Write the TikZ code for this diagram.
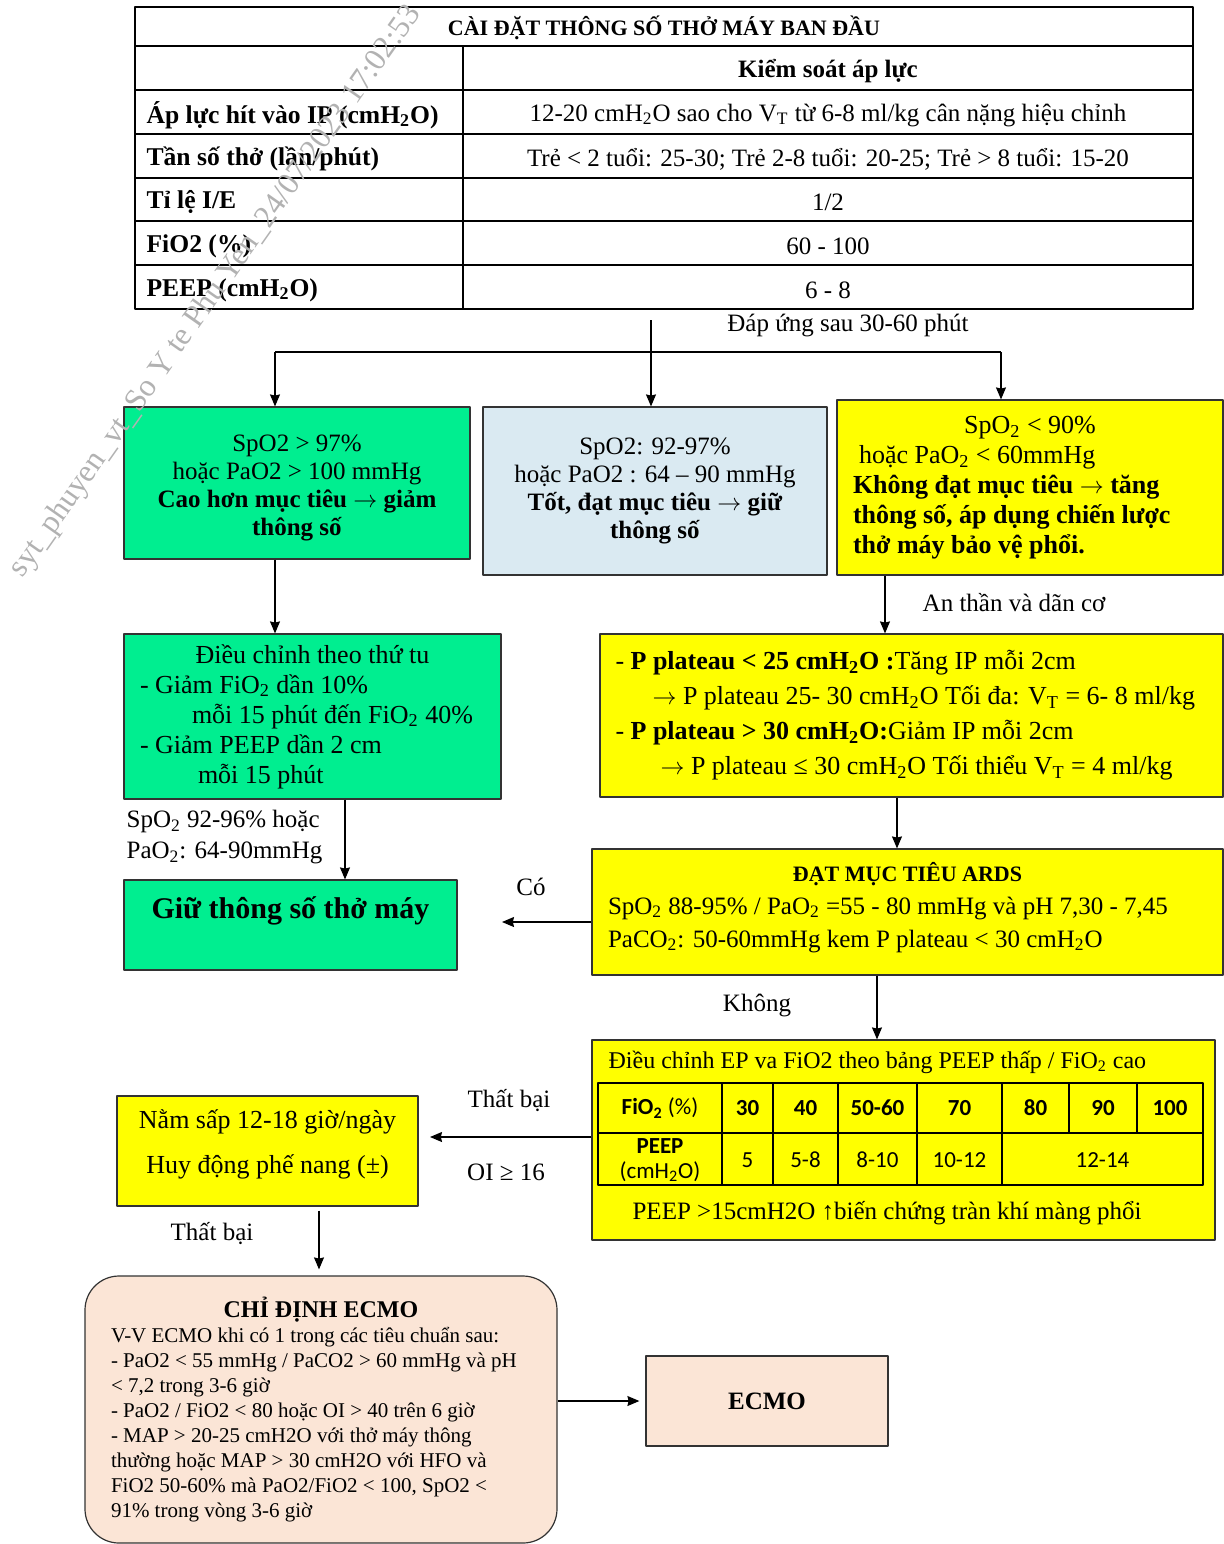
\documentclass[tikz,border=0pt]{standalone}
\usepackage{fontspec}
\setmainfont{Liberation Serif}
\newfontfamily\calibri{Carlito}
\usetikzlibrary{calc,arrows.meta}
\definecolor{mintg}{RGB}{0,238,144}
\definecolor{paleb}{RGB}{218,234,242}
\definecolor{yel}{RGB}{255,255,0}
\definecolor{peach}{RGB}{251,229,214}
\newcommand\bodyfs{\fontsize{12.5}{15}\selectfont}
\begin{document}
\begin{tikzpicture}[x=0.5pt, y=-0.5pt, >={Stealth[length=6pt,width=5pt,inset=0.6pt]}, line width=0.6pt, line join=round,
	font=\bodyfs,
	box/.style={draw=black!80, inner sep=0pt, align=center},
	gbox/.style={box, fill=mintg},
	bbox/.style={box, fill=paleb},
	ybox/.style={box, fill=yel},
	pbox/.style={box, fill=peach},
	lbl/.style={font=\bodyfs, inner sep=0pt},
	cellL/.style={anchor=west, font=\fontsize{12.8}{15}\selectfont\bfseries, inner sep=0pt},
	cellR/.style={font=\bodyfs, inner sep=0pt},
	cell/.style={font=\calibri\fontsize{11.5}{12.5}\selectfont, inner sep=0pt, align=center},
	cellb/.style={cell, font=\calibri\bfseries\fontsize{11.5}{12.5}\selectfont}]
	\useasboundingbox (0,0) rectangle (1223,1544);
	% bảng cài đặt ban đầu
	\draw (135,7) rectangle (1193,309);
	\draw (135,46) -- (1193,46);
	\draw (135,90) -- (1193,90);
	\draw (135,134) -- (1193,134);
	\draw (135,178) -- (1193,178);
	\draw (135,221) -- (1193,221);
	\draw (135,265) -- (1193,265);
	\draw (463,46) -- (463,309);
	\node[font=\bfseries\fontsize{11}{13}\selectfont] (ttl) at (664,28) {CÀI ĐẶT THÔNG SỐ THỞ MÁY BAN ĐẦU};
	\node[cellR, font=\bodyfs\bfseries] (hdr) at (828,71) {Kiểm soát áp lực};
	\node[cellL] (ip) at (146,115) {Áp lực hít vào IP (cmH\textsubscript{2}O)};
	\node[cellR] (ipv) at (828,115) {12-20 cmH\textsubscript{2}O sao cho V\textsubscript{T} từ 6-8 ml/kg cân nặng hiệu chỉnh};
	\node[cellL] (rr) at (146,159) {Tần số thở (lần/phút)};
	\node[cellR] (rrv) at (828,159) {Trẻ < 2 tuổi: 25-30; Trẻ 2-8 tuổi: 20-25; Trẻ > 8 tuổi: 15-20};
	\node[cellL] (ie) at (146,202) {Tỉ lệ I/E};
	\node[cellR] (iev) at (828,202) {1/2};
	\node[cellL] (fio) at (146,246) {FiO2 (\%)};
	\node[cellR] (fiov) at (828,246) {60 - 100};
	\node[cellL] (peep) at (146,290) {PEEP (cmH\textsubscript{2}O)};
	\node[cellR] (peepv) at (828,290) {6 - 8};
	% hàng hộp đầu
	\node[gbox, minimum width=173pt, minimum height=76pt, text height=55pt, font=\fontsize{12.5}{14}\selectfont] (hi) at (297,483) {SpO2 > 97\%\\hoặc PaO2 > 100 mmHg\\\textbf{Cao hơn mục tiêu $\rightarrow$ giảm}\\\textbf{thông số}};
	\node[bbox, minimum width=172pt, minimum height=84pt, font=\fontsize{12.5}{14}\selectfont] (ok) at (655,491) {SpO2: 92-97\%\\hoặc PaO2 : 64 – 90 mmHg\\\textbf{Tốt, đạt mục tiêu $\rightarrow$ giữ}\\\textbf{thông số}};
	\node[ybox, minimum width=193pt, minimum height=87.5pt, text width=177pt, align=flush left, font=\fontsize{13}{15}\selectfont] (lo) at (1030,487.5) {\makebox[177pt]{SpO\textsubscript{2} < 90\%}\\\hspace*{3pt}hoặc PaO\textsubscript{2} < 60mmHg\\\textbf{Không đạt mục tiêu $\rightarrow$ tăng}\\\textbf{thông số, áp dụng chiến lược}\\\textbf{thở máy bảo vệ phổi.}};
	\coordinate (src) at (651,320);
	\coordinate (jl) at (275,352);
	\coordinate (jr) at (1001,352);
	\draw (jl) -- (jr);
	\draw[->] (src) -- (src |- ok.north);
	\draw[->] (jl) -- (jl |- hi.north);
	\draw[->] (jr) -- (jr |- lo.north);
	\node[lbl] (resp) at (848,325) {Đáp ứng sau 30-60 phút};
	% nhánh trái
	\node[gbox, minimum width=188.5pt, minimum height=82.5pt, text width=172.5pt, align=flush left, font=\fontsize{13}{15}\selectfont] (adj) at (312.5,716.5) {\makebox[172.5pt]{Điều chỉnh theo thứ tu}\\- Giảm FiO\textsubscript{2} dần 10\%\\\hspace*{26pt}mỗi 15 phút đến FiO\textsubscript{2} 40\%\\- Giảm PEEP dần 2 cm\\\hspace*{29pt}mỗi 15 phút};
	\node[gbox, minimum width=166.5pt, minimum height=45pt, text height=12pt, text depth=19pt, font=\bfseries\fontsize{15}{18}\selectfont] (keep) at (290.5,925) {Giữ thông số thở máy};
	\draw[->] (jl |- hi.south) -- (jl |- adj.north);
	\coordinate (xk) at (345,0);
	\draw[->] (adj.south -| xk) -- (keep.north -| xk);
	\node[lbl, anchor=north west, align=left, font=\fontsize{12.5}{15.5}\selectfont] (tgt) at (126,810) {SpO\textsubscript{2} 92-96\% hoặc\\PaO\textsubscript{2}: 64-90mmHg};
	% nhánh phải
	\node[ybox, minimum width=311.5pt, minimum height=81.5pt, text width=296pt, align=flush left, font=\fontsize{13}{17.5}\selectfont] (pp) at (911.5,715.5) {- \textbf{P plateau < 25 cmH\textsubscript{2}O :}Tăng IP mỗi 2cm\\\hspace*{18.5pt}$\rightarrow$ P plateau 25- 30 cmH\textsubscript{2}O Tối đa: V\textsubscript{T} = 6- 8 ml/kg\\- \textbf{P plateau > 30 cmH\textsubscript{2}O:}Giảm IP mỗi 2cm\\\hspace*{22.5pt}$\rightarrow$ P plateau ≤ 30 cmH\textsubscript{2}O Tối thiểu V\textsubscript{T} = 4 ml/kg};
	\node[ybox, minimum width=315.5pt, minimum height=63pt, text width=299.5pt, align=flush left, text depth=40.5pt, font=\fontsize{12.5}{16.5}\selectfont] (ards) at (907.5,912) {\makebox[299.5pt]{\fontsize{11}{13}\selectfont\bfseries ĐẠT MỤC TIÊU ARDS}\\SpO\textsubscript{2} 88-95\% / PaO\textsubscript{2} =55 - 80 mmHg và pH 7,30 - 7,45\\PaCO\textsubscript{2}: 50-60mmHg kem P plateau < 30 cmH\textsubscript{2}O};
	\coordinate (xs) at (885,0);
	\draw[->] (lo.south -| xs) -- (pp.north -| xs);
	\node[lbl] (sed) at (1014,603) {An thần và dãn cơ};
	\coordinate (xp) at (897,0);
	\draw[->] (pp.south -| xp) -- (ards.north -| xp);
	\coordinate (yes) at (502,922);
	\draw[->] (ards.west |- yes) -- (yes);
	\node[lbl] (co) at (531,887) {Có};
	% bảng PEEP / FiO2
	\node[ybox, minimum width=311.5pt, minimum height=100pt] (tab) at (903.5,1140) {};
	\node[lbl, anchor=west, font=\fontsize{12}{14}\selectfont] (tabt) at (608,1062) {Điều chỉnh EP va FiO2 theo bảng PEEP thấp / FiO\textsubscript{2} cao};
	\draw (598,1083) rectangle (1203,1185);
	\draw (598,1133) -- (1203,1133);
	\draw (722,1083) -- (722,1185);
	\draw (773,1083) -- (773,1185);
	\draw (838,1083) -- (838,1185);
	\draw (917,1083) -- (917,1185);
	\draw (1002,1083) -- (1002,1185);
	\draw (1069,1083) -- (1069,1133);
	\draw (1137,1083) -- (1137,1133);
	\node[cell] (f0) at (660,1108) {\textbf{FiO\textsubscript{2}} (\%)};
	\node[cellb] (f30) at (747.5,1108) {30};
	\node[cellb] (f40) at (805.5,1108) {40};
	\node[cellb] (f50) at (877.5,1108) {50-60};
	\node[cellb] (f70) at (959.5,1108) {70};
	\node[cellb] (f80) at (1035.5,1108) {80};
	\node[cellb] (f90) at (1103,1108) {90};
	\node[cellb] (f100) at (1170,1108) {100};
	\node[cell] (p0) at (660,1160) {\textbf{PEEP}\\(cmH\textsubscript{2}O)};
	\node[cell] (p30) at (747.5,1160) {5};
	\node[cell] (p40) at (805.5,1160) {5-8};
	\node[cell] (p50) at (877.5,1160) {8-10};
	\node[cell] (p70) at (959.5,1160) {10-12};
	\node[cell] (p80) at (1102.5,1160) {12-14};
	\node[lbl] (ptx) at (887,1213) {PEEP >15cmH2O ↑biến chứng tràn khí màng phổi};
	\coordinate (xa) at (877,0);
	\draw[->] (ards.south -| xa) -- (tab.north -| xa);
	\node[lbl] (no) at (757,1005) {Không};
	% nằm sấp, ECMO
	\node[ybox, minimum width=150.5pt, minimum height=55pt, text depth=9.5pt, font=\fontsize{13}{22.5}\selectfont] (prone) at (267.5,1151) {Nằm sấp 12-18 giờ/ngày\\Huy động phế nang (±)};
	\coordinate (fail) at (430,1137);
	\draw[->] (tab.west |- fail) -- (fail);
	\node[lbl] (fl1) at (509,1101) {Thất bại};
	\node[lbl] (oi) at (506,1172) {OI ≥ 16};
	\node[pbox, rounded corners=17pt, minimum width=236pt, minimum height=133.5pt, text width=210pt, align=flush left, font=\fontsize{10.5}{12.5}\selectfont] (ecmoi) at (321,1409.5) {\makebox[210pt]{\fontsize{12}{12.5}\selectfont\bfseries CHỈ ĐỊNH ECMO}\\V-V ECMO khi có 1 trong các tiêu chuẩn sau:\\- PaO2 < 55 mmHg / PaCO2 > 60 mmHg và pH\\< 7,2 trong 3-6 giờ\\- PaO2 / FiO2 < 80 hoặc OI > 40 trên 6 giờ\\- MAP > 20-25 cmH2O với thở máy thông\\thường hoặc MAP > 30 cmH2O với HFO và\\FiO2 50-60\% mà PaO2/FiO2 < 100, SpO2 <\\91\% trong vòng 3-6 giờ};
	\node[pbox, minimum width=121pt, minimum height=45pt, font=\bodyfs\bfseries] (ecmo) at (767,1401) {ECMO};
	\coordinate (xf) at (319,0);
	\draw[->, shorten <=2pt, shorten >=3pt] (prone.south -| xf) -- (ecmoi.north -| xf);
	\node[lbl] (fl2) at (212,1234) {Thất bại};
	\draw[->, shorten >=3pt] (ecmoi.east |- ecmo.west) -- (ecmo.west);
	% dấu chìm
	\node[text=black!30, rotate=54.8, font=\fontsize{15.8}{16}\selectfont] (wm) at (216,292) {syt\_phuyen\_vt\_So Y te Phu Yen\_24/07/2023 17:02:53};
\end{tikzpicture}
\end{document}
